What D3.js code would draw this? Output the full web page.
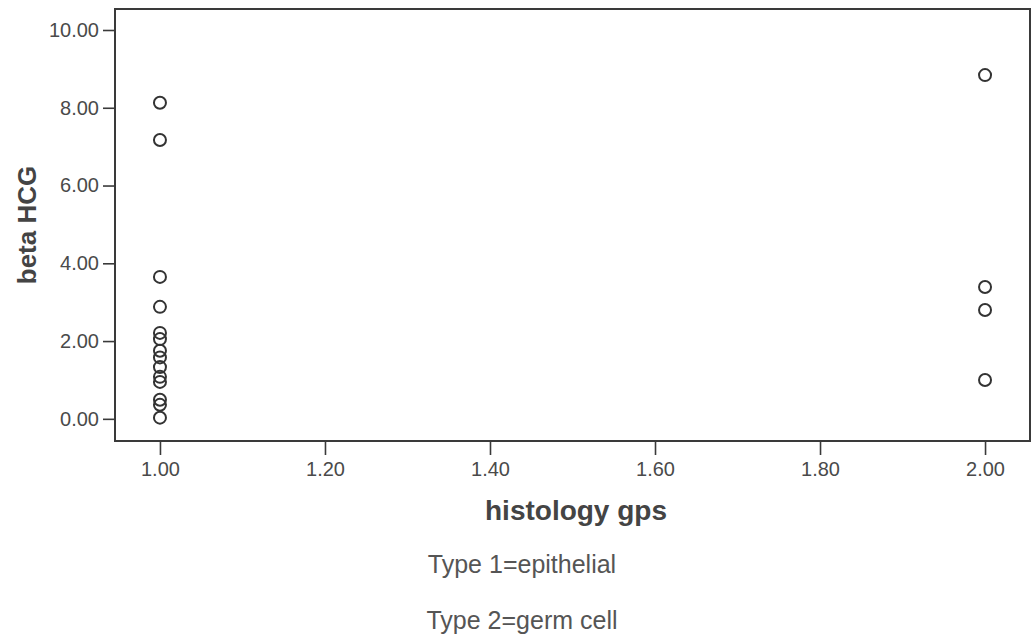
<!DOCTYPE html>
<html>
<head>
<meta charset="utf-8">
<script src="https://cdn.jsdelivr.net/npm/d3@7"></script>
<style>
  body { margin: 0; background: #fff; }
  text { font-family: "Liberation Sans", Arial, sans-serif; }
</style>
</head>
<body>
<div id="chart"></div>
<script>
// histology group (1 = epithelial, 2 = germ cell) vs beta HCG
var groupX = [1, 1, 1, 1, 1, 1, 1, 1, 1, 1, 1, 1, 1, 1, 2, 2, 2, 2];
var betaHCG = [8.13, 7.17, 3.65, 2.88, 2.21, 2.05, 1.75, 1.58, 1.33, 1.08, 0.95, 0.49, 0.36, 0.03, 8.84, 3.39, 2.80, 1.00];
var xTicks = [1.0, 1.2, 1.4, 1.6, 1.8, 2.0];
var yTicks = [0, 2, 4, 6, 8, 10];
var notes = ["Type 1=epithelial", "Type 2=germ cell"];

var W = 1033, H = 639;
var box = {left: 115, top: 9, right: 1030, bottom: 441};

var svg = d3.select("#chart").append("svg")
    .attr("width", W).attr("height", H);

var x = d3.scaleLinear().domain([0.9455, 2.0545]).range([box.left, box.right]);
var y = d3.scaleLinear().domain([-0.57, 10.54]).range([box.bottom, box.top]);

// frame
svg.append("rect")
    .attr("x", box.left).attr("y", box.top)
    .attr("width", box.right - box.left).attr("height", box.bottom - box.top)
    .attr("fill", "none").attr("stroke", "#3a3a3a").attr("stroke-width", 2);

var fmt = d3.format(".2f");

var yAxis = svg.append("g")
    .attr("transform", "translate(" + box.left + ",0)")
    .call(d3.axisLeft(y).tickValues(yTicks).tickFormat(fmt).tickSize(12).tickPadding(4));
var xAxis = svg.append("g")
    .attr("transform", "translate(0," + box.bottom + ")")
    .call(d3.axisBottom(x).tickValues(xTicks).tickFormat(fmt).tickSize(14).tickPadding(7));

[xAxis, yAxis].forEach(function(a) {
  a.select(".domain").remove();
  a.selectAll(".tick line").attr("stroke", "#3a3a3a").attr("stroke-width", 1.6);
  a.selectAll(".tick text")
    .attr("fill", "#4a4a4a")
    .style("font-size", "20px");
});

// points
svg.append("g").selectAll("circle")
    .data(betaHCG)
    .enter().append("circle")
    .attr("cx", function(d, i) { return x(groupX[i]); })
    .attr("cy", function(d) { return y(d); })
    .attr("r", 6)
    .attr("fill", "none")
    .attr("stroke", "#333")
    .attr("stroke-width", 2);

// axis titles
svg.append("text")
    .attr("transform", "translate(36,225) rotate(-90)")
    .attr("text-anchor", "middle")
    .attr("fill", "#444")
    .style("font-size", "26px").style("font-weight", "bold")
    .text("beta HCG");

svg.append("text")
    .attr("x", 576).attr("y", 520)
    .attr("text-anchor", "middle")
    .attr("fill", "#444")
    .style("font-size", "28px").style("font-weight", "bold")
    .text("histology gps");

svg.selectAll("text.note")
    .data(notes)
    .enter().append("text")
    .attr("class", "note")
    .attr("x", 522)
    .attr("y", function(d, i) { return 573 + i * 56; })
    .attr("text-anchor", "middle")
    .attr("fill", "#555")
    .style("font-size", "25px")
    .text(function(d) { return d; });
</script>
</body>
</html>
